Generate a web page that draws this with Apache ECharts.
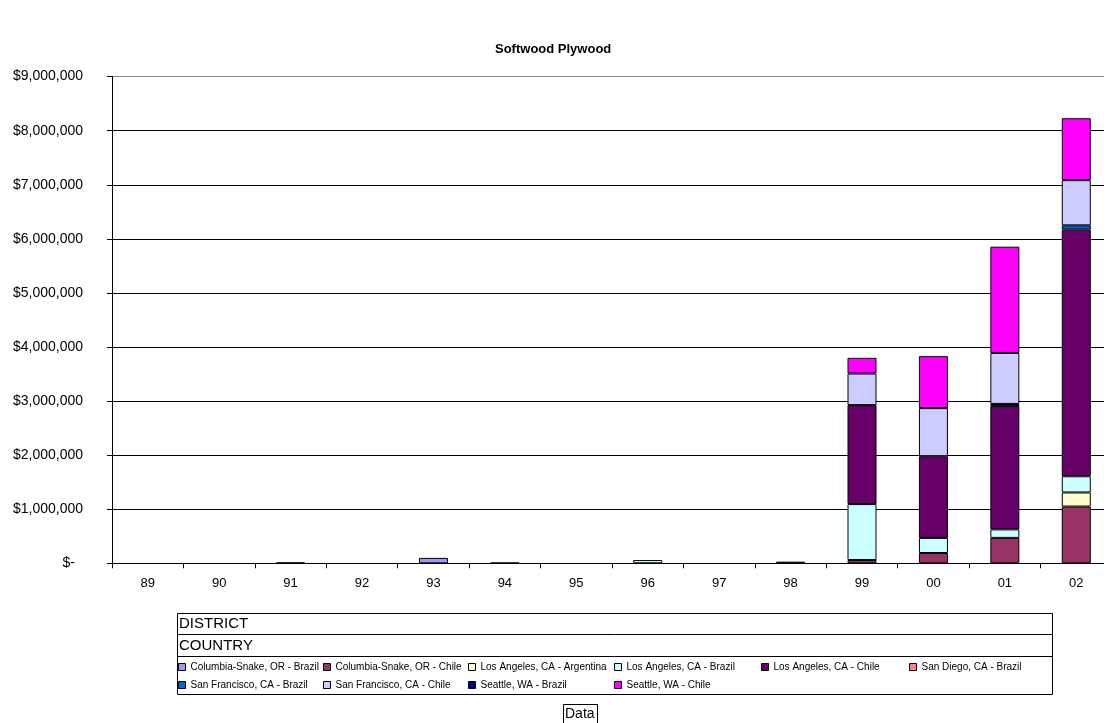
<!DOCTYPE html>
<html>
<head>
<meta charset="utf-8">
<script src="https://cdn.jsdelivr.net/npm/echarts@6/dist/echarts.min.js"></script>
<style>
html,body{margin:0;padding:0;background:#fff;overflow:hidden;width:1104px;height:723px;}
#c{width:1120px;height:723px;}
</style>
</head>
<body>
<div id="c"></div>
<script>
const categories = ['89','90','91','92','93','94','95','96','97','98','99','00','01','02'];
const yTickLabels = ['$-','$1,000,000','$2,000,000','$3,000,000','$4,000,000','$5,000,000','$6,000,000','$7,000,000','$8,000,000','$9,000,000'];

const seriesNames = [
  'Columbia-Snake, OR - Brazil','Columbia-Snake, OR - Chile','Los Angeles, CA - Argentina',
  'Los Angeles, CA - Brazil','Los Angeles, CA - Chile','San Diego, CA - Brazil',
  'San Francisco, CA - Brazil','San Francisco, CA - Chile','Seattle, WA - Brazil','Seattle, WA - Chile'
];
const seriesColors = ['#9999FF','#993366','#FFFFCC','#CCFFFF','#660066','#FF8080','#0066CC','#CCCCFF','#000080','#FF00FF'];

const colSnakeBrazil = [null,null,null,null,100000,null,null,null,null,null,null,null,null,null];
const colSnakeChile  = [null,null,null,null,null,null,null,null,null,null,60000,190000,470000,1050000];
const laArgentina    = [null,null,null,null,null,null,null,null,null,null,null,null,null,260000];
const laBrazil       = [null,null,null,null,null,null,null,60000,null,null,1035000,280000,157000,300000];
const laChile        = [null,null,15000,null,null,12000,null,null,null,30000,1830000,1510000,2280000,4560000];
const sdBrazil       = [null,null,null,null,null,null,null,null,null,null,null,null,null,null];
const sfBrazil       = [null,null,null,null,null,null,null,null,null,null,null,null,40000,80000];
const sfChile        = [null,null,null,null,null,null,null,null,null,null,584000,890000,943000,835000];
const seaBrazil      = [null,null,null,null,null,null,null,null,null,null,null,null,null,null];
const seaChile       = [null,null,null,null,null,null,null,null,null,null,290000,960000,1965000,1145000];

const seriesData = [colSnakeBrazil,colSnakeChile,laArgentina,laBrazil,laChile,sdBrazil,sfBrazil,sfChile,seaBrazil,seaChile];

const FONT = 'Liberation Sans, Arial, sans-serif';
const chart = echarts.init(document.getElementById('c'), null, {renderer:'canvas'});

const series = seriesNames.map((n,i)=>({
  name:n, type:'bar', stack:'s', barWidth:29,
  data: seriesData[i],
  itemStyle:{color:seriesColors[i], borderColor:'#000', borderWidth:1},
  emphasis:{disabled:true}, animation:false
}));

// legend slot positions (layout only)
const legendLeft = [178,323,468,614,761,909,178,323,468,614];
const legendTop  = [662,662,662,662,662,662,680,680,680,680];
const legends = seriesNames.map((n,i)=>({
  data:[n], left:legendLeft[i], top:legendTop[i], orient:'horizontal',
  itemWidth:7, itemHeight:7, itemGap:0, icon:'rect', padding:0,
  selectedMode:false,
  itemStyle:{borderColor:'#000', borderWidth:1},
  textStyle:{fontFamily:FONT, fontSize:10, color:'#000'}
}));

const boxL = 177, boxR = 1052, boxT = 613, boxB = 694;
const graphic = [
  {type:'rect', shape:{x:boxL+0.5,y:boxT+0.5,width:boxR-boxL,height:boxB-boxT}, style:{fill:'none',stroke:'#000',lineWidth:1}},
  {type:'line', shape:{x1:boxL,y1:634.5,x2:boxR,y2:634.5}, style:{stroke:'#000',lineWidth:1}},
  {type:'line', shape:{x1:boxL,y1:656.5,x2:boxR,y2:656.5}, style:{stroke:'#000',lineWidth:1}},
  {type:'text', left:179, top:616, style:{text:'DISTRICT', font:'15px '+FONT, fill:'#000'}},
  {type:'text', left:179, top:638, style:{text:'COUNTRY', font:'15px '+FONT, fill:'#000'}},
  {type:'rect', shape:{x:563.5,y:704.5,width:34,height:19}, style:{fill:'#fff',stroke:'#000',lineWidth:1}},
  {type:'text', left:565, top:707, style:{text:'Data', font:'14px '+FONT, fill:'#000'}}
];

chart.setOption({
  animation:false,
  backgroundColor:'#fff',
  title:{text:'Softwood Plywood', left:490, top:38,
    textStyle:{fontFamily:FONT, fontSize:13, fontWeight:'bold', color:'#000'}},
  grid:{left:112, top:76.6, right:8, bottom:159.7, containLabel:false},
  legend:legends,
  xAxis:{type:'category', data:categories, boundaryGap:true,
    axisLine:{lineStyle:{color:'#000',width:1}},
    axisTick:{show:true, length:5, lineStyle:{color:'#000'}},
    axisLabel:{fontFamily:FONT, fontSize:13, color:'#000', margin:14}},
  yAxis:{type:'value', min:0, max:9000000, interval:1000000,
    axisLine:{show:true, lineStyle:{color:'#000',width:1}},
    axisTick:{show:true, length:5, lineStyle:{color:'#000'}},
    splitLine:{show:true, lineStyle:{color:['#000','#000','#000','#000','#000','#000','#000','#000','#000','#888'], width:1}},
    axisLabel:{fontFamily:FONT, fontSize:14, color:'#000', margin:29,
      formatter:(v)=>{const s = yTickLabels[Math.round(v/1000000)]; return v===0 ? '{z|'+s+'}' : s;},
      rich:{z:{fontFamily:FONT, fontSize:14, color:'#000', padding:[0,8,0,0]}}}},
  series:series,
  graphic:graphic
});
</script>
</body>
</html>
